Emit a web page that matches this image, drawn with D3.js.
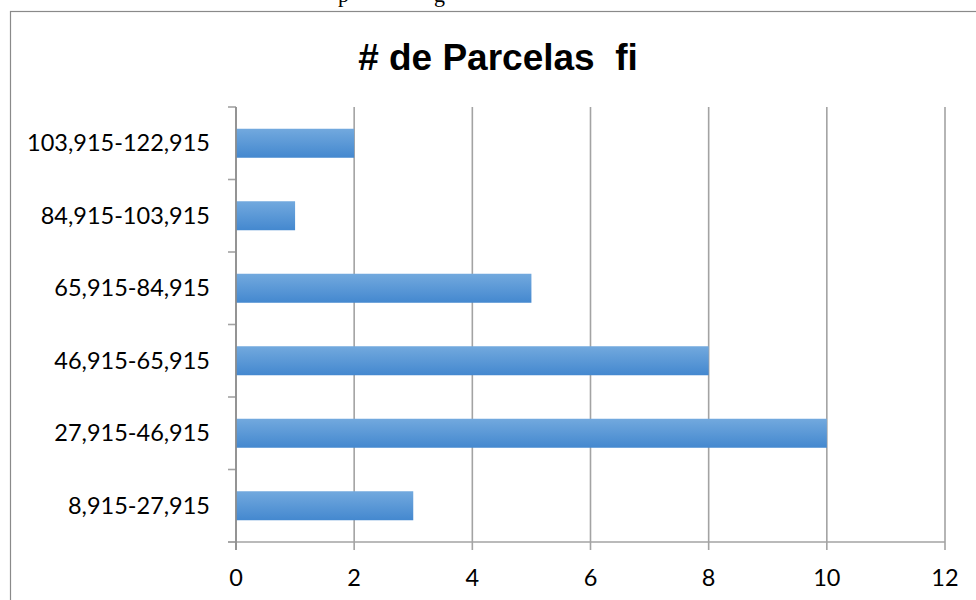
<!DOCTYPE html>
<html>
<head>
<meta charset="utf-8">
<script src="https://cdn.jsdelivr.net/npm/d3@7"></script>
<style>
  body { margin: 0; background: #fff; }
  svg { display: block; }
</style>
</head>
<body>
<div id="chart"></div>
<script>
// data
let categories = ["8,915-27,915", "27,915-46,915", "46,915-65,915", "65,915-84,915", "84,915-103,915", "103,915-122,915"];
let counts = [3, 10, 8, 5, 1, 2];
let x_ticks = [0, 2, 4, 6, 8, 10, 12];
let title_text = "# de Parcelas  fi";

let width = 976, height = 600;

let svg = d3.select("#chart").append("svg")
  .attr("width", width)
  .attr("height", height);

// gradient for bars
let defs = svg.append("defs");
let grad = defs.append("linearGradient")
  .attr("id", "bar_grad")
  .attr("x1", 0).attr("y1", 0).attr("x2", 0).attr("y2", 1);
grad.append("stop").attr("offset", "0%").attr("stop-color", "#72a9de");
grad.append("stop").attr("offset", "100%").attr("stop-color", "#4488cf");

// cut-off text line from the page above the chart
svg.append("text").attr("x", 338).attr("y", 2)
  .style("font-family", "Liberation Serif").style("font-size", "22px").text("p");
svg.append("text").attr("x", 434).attr("y", 2)
  .style("font-family", "Liberation Serif").style("font-size", "22px").text("g");

// chart frame
svg.append("rect")
  .attr("x", 10.5).attr("y", 11.5)
  .attr("width", 1000).attr("height", 700)
  .attr("fill", "none")
  .attr("stroke", "#8a8a8a")
  .attr("stroke-width", 1.2);

svg.append("text")
  .attr("x", 498).attr("y", 70)
  .attr("text-anchor", "middle")
  .style("font-family", "Liberation Sans")
  .style("font-weight", "bold")
  .style("font-size", "37px")
  .style("white-space", "pre")
  .attr("xml:space", "preserve")
  .text(title_text);

let x = d3.scaleLinear().domain([0, 12]).range([236, 945]);
let y = d3.scaleBand().domain(categories.slice().reverse()).range([107, 542])
  .paddingInner(0.6).paddingOuter(0.3);

let g = svg.append("g");

// vertical gridlines with ticks below the axis
g.selectAll(".grid").data(x_ticks).enter().append("line")
  .attr("class", "grid")
  .attr("x1", d => x(d)).attr("x2", d => x(d))
  .attr("y1", 107).attr("y2", 550)
  .attr("stroke", "#a3a3a3").attr("stroke-width", 1.6);

// horizontal axis line
g.append("line")
  .attr("x1", 228).attr("x2", x(12))
  .attr("y1", 542).attr("y2", 542)
  .attr("stroke", "#a3a3a3").attr("stroke-width", 1.6);

// category ticks at band boundaries
let step = y.step();
let bounds = d3.range(categories.length + 1).map(i => 107 + i * step);
g.selectAll(".ytick").data(bounds).enter().append("line")
  .attr("class", "ytick")
  .attr("x1", 228).attr("x2", 236)
  .attr("y1", d => d).attr("y2", d => d)
  .attr("stroke", "#a3a3a3").attr("stroke-width", 1.6);

// bars
g.selectAll(".bar").data(categories).enter().append("rect")
  .attr("class", "bar")
  .attr("x", x(0))
  .attr("y", d => y(d))
  .attr("width", (d, i) => x(counts[i]) - x(0))
  .attr("height", y.bandwidth())
  .attr("fill", "url(#bar_grad)");

// left axis line over bars
g.append("line")
  .attr("x1", 236).attr("x2", 236)
  .attr("y1", 107).attr("y2", 550)
  .attr("stroke", "#8c8c8c").attr("stroke-width", 1.6);

// category labels
g.selectAll(".ylab").data(categories).enter().append("text")
  .attr("x", 210)
  .attr("y", d => y(d) + y.bandwidth() / 2)
  .attr("dy", "0.35em")
  .attr("text-anchor", "end")
  .style("font-family", "Lato")
  .style("font-size", "23.5px")
  .attr("fill", "#000")
  .text(d => d);

// x tick labels
g.selectAll(".xlab").data(x_ticks).enter().append("text")
  .attr("x", d => x(d))
  .attr("y", 586)
  .attr("text-anchor", "middle")
  .style("font-family", "Lato")
  .style("font-size", "23.5px")
  .attr("fill", "#000")
  .text(d => d);
</script>
</body>
</html>
